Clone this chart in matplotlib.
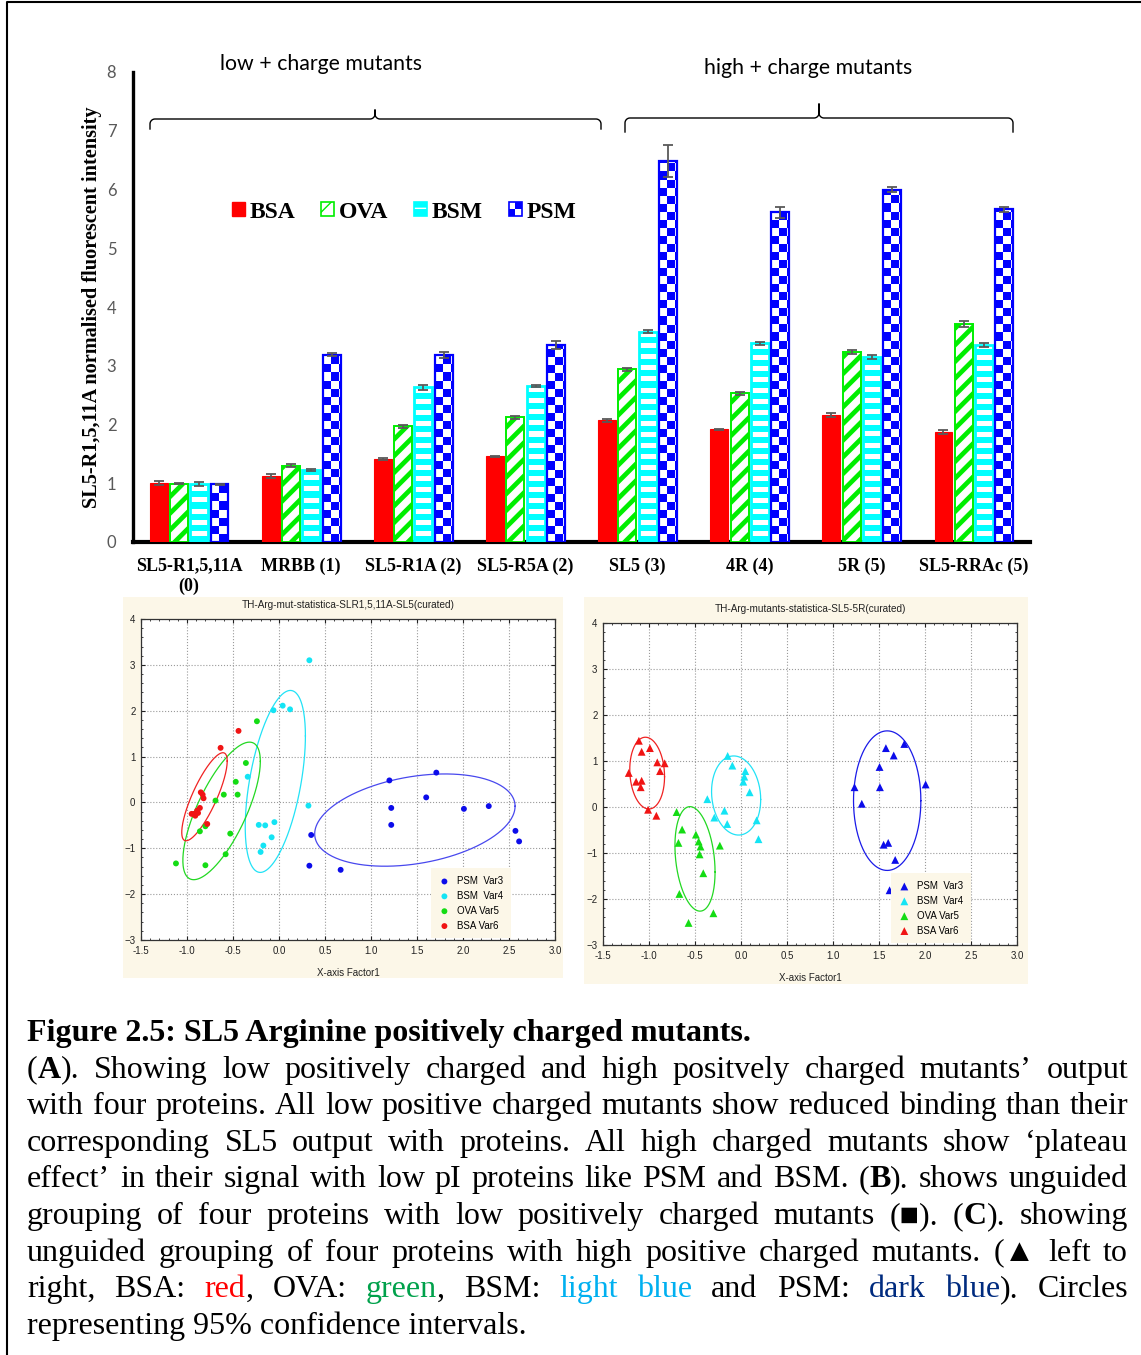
import re
import numpy as np
import matplotlib
matplotlib.use('Agg')
import matplotlib.pyplot as plt
from matplotlib.patches import Patch, Rectangle
from matplotlib.colors import ListedColormap
from matplotlib.legend_handler import HandlerBase, HandlerTuple
from matplotlib.ticker import MultipleLocator, FormatStrFormatter

W, H = 1141, 1355
SERIF = ['Liberation Serif', 'DejaVu Serif']
SANS = ['Liberation Sans', 'DejaVu Sans']

# ---------------- bar chart data ----------------
mutants = ['SL5-R1,5,11A\n(0)', 'MRBB (1)', 'SL5-R1A (2)', 'SL5-R5A (2)',
           'SL5 (3)', '4R (4)', '5R (5)', 'SL5-RRAc (5)']
bsa = [1.00, 1.12, 1.41, 1.46, 2.07, 1.92, 2.16, 1.87]
ova = [0.99, 1.30, 1.97, 2.12, 2.94, 2.53, 3.23, 3.71]
bsm = [0.99, 1.23, 2.63, 2.66, 3.58, 3.38, 3.15, 3.35]
psm = [0.98, 3.19, 3.19, 3.35, 6.48, 5.61, 6.00, 5.66]
bsa_err = [0.03, 0.03, 0.02, 0.01, 0.03, 0.01, 0.03, 0.03]
ova_err = [0.01, 0.03, 0.03, 0.03, 0.03, 0.03, 0.03, 0.05]
bsm_err = [0.03, 0.02, 0.05, 0.02, 0.03, 0.03, 0.03, 0.03]
psm_err = [0.01, 0.03, 0.05, 0.07, 0.27, 0.10, 0.05, 0.04]

# ---------------- scatter data (B: low + charge, circles) ----------------
low_psm_x = [1.20, 1.71, 1.60, 1.22, 2.01, 2.28, 1.22, 0.35, 2.57, 2.61, 0.33, 0.67]
low_psm_y = [0.48, 0.65, 0.11, -0.12, -0.14, -0.08, -0.49, -0.71, -0.62, -0.85, -1.38, -1.47]
low_bsm_x = [0.33, -0.06, 0.04, 0.12, -0.34, 0.32, -0.22, -0.15, -0.05, -0.08, -0.17, -0.20]
low_bsm_y = [3.10, 2.01, 2.11, 2.03, 0.56, -0.07, -0.49, -0.50, -0.43, -0.76, -0.94, -1.08]
low_ova_x = [-0.24, -0.36, -0.47, -0.45, -0.60, -0.69, -0.80, -0.86, -0.53, -0.58, -0.80, -1.12]
low_ova_y = [1.77, 0.86, 0.45, 0.17, 0.17, 0.04, -0.52, -0.63, -0.68, -1.13, -1.37, -1.33]
low_bsa_x = [-0.635, -0.44, -0.85, -0.83, -0.82, -0.86, -0.89, -0.95, -0.91, -0.78, -0.925, -0.88]
low_bsa_y = [1.19, 1.56, 0.22, 0.17, 0.09, -0.12, -0.18, -0.25, -0.29, -0.47, -0.25, -0.23]
# 95% ellipses: centre x, centre y, half width, half height, correlation
low_ell_psm = [1.477, -0.385, 1.089, 1.006, 0.30]
low_ell_bsm = [-0.04, 0.458, 0.327, 1.984, 0.50]
low_ell_ova = [-0.624, -0.185, 0.421, 1.50, 0.72]
low_ell_bsa = [-0.81, 0.124, 0.247, 0.96, 0.81]

# ---------------- scatter data (C: high + charge, triangles) ----------------
high_psm_x = [1.234, 1.313, 1.506, 1.51, 1.575, 1.66, 1.775, 2.007, 1.55, 1.60, 1.676, 1.615]
high_psm_y = [0.43, 0.07, 0.87, 0.43, 1.28, 1.12, 1.37, 0.49, -0.82, -0.78, -1.15, -1.81]
high_bsm_x = [-0.145, -0.094, 0.047, 0.036, 0.025, 0.094, -0.366, -0.18, -0.29, -0.15, 0.17, 0.19]
high_bsm_y = [1.11, 0.90, 0.78, 0.66, 0.55, 0.32, 0.17, -0.08, -0.23, -0.37, -0.29, -0.70]
high_ova_x = [-0.70, -0.64, -0.68, -0.49, -0.46, -0.44, -0.23, -0.45, -0.41, -0.67, -0.30, -0.57]
high_ova_y = [-0.11, -0.49, -0.78, -0.60, -0.75, -0.86, -0.84, -1.03, -1.44, -1.89, -2.31, -2.52]
high_bsa_x = [-1.11, -1.08, -0.99, -0.91, -0.83, -0.88, -1.22, -1.14, -1.08, -1.09, -1.01, -0.92]
high_bsa_y = [1.44, 1.20, 1.28, 0.97, 0.95, 0.78, 0.74, 0.55, 0.57, 0.43, -0.06, -0.19]
high_ell_psm = [1.589, 0.138, 0.366, 1.517, 0.0]
high_ell_bsm = [-0.053, 0.25, 0.267, 0.86, -0.1]
high_ell_ova = [-0.50, -1.128, 0.218, 1.136, -0.25]
high_ell_bsa = [-1.02, 0.737, 0.189, 0.78, -0.1]

legend_names = ['PSM  Var3', 'BSM  Var4', 'OVA Var5', 'BSA Var6']

caption_title = 'Figure 2.5: SL5 Arginine positively charged mutants.'
caption_lines = [
    "(*A*). Showing low positively charged and high positvely charged mutants\u2019 output",
    "with four proteins. All low positive charged mutants show reduced binding than their",
    "corresponding SL5 output with proteins. All high charged mutants show \u2018plateau",
    "effect\u2019 in their signal with low pI proteins like PSM and BSM. (*B*). shows unguided",
    "grouping of four proteins with low positively charged mutants (\u25a0). (*C*). showing",
    "unguided grouping of four proteins with high positive charged mutants. (\u25b2 left to",
    "right, BSA: {r:red}, OVA: {g:green}, BSM: {lb:light} {lb:blue} and PSM: {db:dark} {db:blue}). Circles",
]
caption_last = 'representing 95% confidence intervals.'
word_colors = {'r': '#ff0000', 'g': '#00a14b', 'lb': '#00b0f0', 'db': '#002b7f'}

RED, GREEN, CYAN, BLUE = '#ff0000', '#00ee00', '#00ffff', '#0000ff'


def px_rect(x0, y0, x1, y1):
    return [x0 / W, 1 - y1 / H, (x1 - x0) / W, (y1 - y0) / H]


fig = plt.figure(figsize=(W / 100, H / 100), dpi=100)

# full-figure pixel axes for frame, braces, caption
bg = fig.add_axes([0, 0, 1, 1], zorder=-1)
bg.set_xlim(0, W)
bg.set_ylim(H, 0)
bg.axis('off')
bg.plot([7, 7, W], [H, 2, 2], color='black', lw=1.5)


def brace(x0, x1, xm, y, dn, up, r=5):
    a = np.linspace(0, np.pi / 2, 12)
    xs = [x0] + list(x0 + r - r * np.cos(a)) + list(xm - r + r * np.sin(a)) + [xm, xm] \
        + list(xm + r - r * np.cos(a)) + list(x1 - r + r * np.sin(a)) + [x1]
    ys = [y + dn] + list(y + r - r * np.sin(a)) + list(y - r + r * np.cos(a)) + [y - up, y - r] \
        + list(y - r + r * np.sin(a)) + list(y + r - r * np.cos(a)) + [y + dn]
    bg.plot(xs, ys, color='black', lw=1.0)


brace(150, 601, 375, 119, 10, 9)
brace(625, 1013, 819, 118, 14, 14)
bg.text(321, 64, 'low + charge mutants', family='Lato', fontsize=15.3, ha='center', va='center')
bg.text(808, 68, 'high + charge mutants', family='Lato', fontsize=15.3, ha='center', va='center')

# ---------------- bar chart ----------------
ax = fig.add_axes(px_rect(133, 72, 1030, 542))
ax.patch.set_visible(False)
centers = np.arange(len(mutants)) + 0.5
step, bw = 0.181, 0.16
ekw = dict(ecolor='#595959', elinewidth=1.3, capsize=3.5, capthick=1.3)
upx = 8 / 470  # data units per pixel on the value axis

ax.bar(centers - 1.5 * step, bsa, bw, color=RED, edgecolor=RED, lw=0.8,
       yerr=bsa_err, error_kw=ekw, zorder=3)

with plt.rc_context({'hatch.linewidth': 3.4}):
    ova_bars = ax.bar(centers - 0.5 * step, ova, bw, facecolor='white', edgecolor=GREEN,
                      hatch='//', lw=1.4, yerr=ova_err, error_kw=ekw, zorder=3)
for b in ova_bars:
    if hasattr(b, 'set_hatch_linewidth'):
        b.set_hatch_linewidth(3.4)

# BSM: cyan bars with white horizontal stripes
bsm_bars = ax.bar(centers + 0.5 * step, bsm, bw, facecolor=CYAN, edgecolor='none',
                  lw=0, zorder=3)
stripes = ListedColormap([CYAN, 'white'])
for b in bsm_bars:
    n = int(np.ceil(b.get_height() / upx))
    band = ((np.arange(n) % 11) >= 6).astype(int)[:, None]
    im = ax.imshow(band, cmap=stripes, vmin=0, vmax=1, origin='lower',
                   extent=(b.get_x(), b.get_x() + bw, 0, n * upx), interpolation='nearest',
                   aspect='auto', zorder=3.5)
    im.set_clip_path(b)
ax.bar(centers + 0.5 * step, bsm, bw, facecolor='none', edgecolor=CYAN, lw=2.0,
       yerr=bsm_err, error_kw=ekw, zorder=4)

# PSM: blue / white checkerboard
psm_bars = ax.bar(centers + 1.5 * step, psm, bw, facecolor='white', edgecolor=BLUE,
                  lw=0, zorder=3)
sqx, sqy = 0.072, 0.137
checker = ListedColormap(['white', BLUE])
for b in psm_bars:
    x0 = b.get_x()
    nx = int(np.ceil(bw / sqx))
    ny = int(np.ceil(b.get_height() / sqy))
    board = np.add.outer(np.arange(ny), np.arange(nx)) % 2
    im = ax.imshow(board, cmap=checker, vmin=0, vmax=1, origin='lower',
                   extent=(x0, x0 + nx * sqx, 0, ny * sqy), interpolation='nearest',
                   aspect='auto', zorder=3.5)
    im.set_clip_path(b)
ax.bar(centers + 1.5 * step, psm, bw, facecolor='none', edgecolor=BLUE, lw=1.6,
       yerr=psm_err, error_kw=ekw, zorder=4)

ax.set_xlim(0, 8)
ax.set_ylim(0, 8)
for s in ['top', 'right']:
    ax.spines[s].set_visible(False)
ax.spines['left'].set_linewidth(2.4)
ax.spines['bottom'].set_linewidth(3.0)
ax.set_xticks(centers)
ax.set_xticklabels(mutants, family=SERIF, fontweight='bold', fontsize=13, linespacing=1.25)
ax.set_yticks(range(9))
ax.set_yticklabels([str(v) for v in range(9)], family='Lato', fontsize=12, color='#595959')
ax.tick_params(axis='both', length=0)
ax.tick_params(axis='y', pad=12)
ax.tick_params(axis='x', pad=11)
ax.set_ylabel('SL5-R1,5,11A normalised fluorescent intensity', family=SERIF,
              fontweight='bold', fontsize=14.6, va='center')
ax.yaxis.set_label_coords(-(133 - 92) / 897, 0.5)


class CheckerHandler(HandlerBase):
    def create_artists(self, legend, orig_handle, xdescent, ydescent, width, height,
                       fontsize, trans):
        w, h = width / 2, height / 2
        arts = []
        for i in range(2):
            for j in range(2):
                c = BLUE if (i + j) % 2 == 0 else 'white'
                arts.append(Rectangle((-xdescent + i * w, -ydescent + j * h), w, h,
                                      facecolor=c, edgecolor='none', transform=trans))
        arts.append(Rectangle((-xdescent, -ydescent), width, height, facecolor='none',
                              edgecolor=BLUE, lw=1.2, transform=trans))
        return arts


h_bsa = Patch(facecolor=RED, edgecolor=RED)
h_ova = Patch(facecolor='white', edgecolor=GREEN, hatch='/', lw=1.2)
h_bsm = (Patch(facecolor=CYAN, edgecolor='white', hatch='-', lw=0),
         Patch(facecolor='none', edgecolor=CYAN, lw=1.2))
h_psm = Rectangle((0, 0), 1, 1)
ax.legend([h_bsa, h_ova, h_bsm, h_psm], ['BSA', 'OVA', 'BSM', 'PSM'], ncol=4,
          loc='center left', bbox_to_anchor=((220 - 133) / 897, (542 - 212) / 470),
          frameon=False, borderpad=0, handlelength=0.55, handleheight=0.55,
          handletextpad=0.2, columnspacing=1.1,
          prop=dict(family=SERIF, weight='bold', size=17),
          handler_map={tuple: HandlerTuple(ndivide=1), Rectangle: CheckerHandler()})

# ---------------- scatter panels ----------------
pt_colors = ['#0c0cea', '#14e4f4', '#14dc14', '#f01414']
CREAM = '#fcf7e8'


def ellipse(axs, e, color):
    cx, cy, rx, ry, rho = e
    t = np.linspace(0, 2 * np.pi, 300)
    d = np.arccos(rho)
    axs.plot(cx + rx * np.cos(t), cy + ry * np.cos(t - d), color=color, lw=0.9, zorder=2)


def scatter_panel(ax_px, bg_px, title, title_y, groups, ells, ell_colors, marker, size, leg_x):
    bg.add_patch(Rectangle((bg_px[0], bg_px[1]), bg_px[2] - bg_px[0], bg_px[3] - bg_px[1],
                           facecolor=CREAM, edgecolor='none'))
    bg.text((ax_px[0] + ax_px[2]) / 2, title_y, title, family=SANS, fontsize=7.2,
            ha='center', va='center', color='#222222')
    sa = fig.add_axes(px_rect(*ax_px))
    sa.set_facecolor('white')
    for e, c in zip(ells, ell_colors):
        ellipse(sa, e, c)
    for (xs, ys), c, name in zip(groups, pt_colors, legend_names):
        sa.scatter(xs, ys, s=size, marker=marker, color=c, edgecolors='none', label=name, zorder=3)
    sa.set_xlim(-1.5, 3.0)
    sa.set_ylim(-3, 4)
    sa.xaxis.set_major_locator(MultipleLocator(0.5))
    sa.xaxis.set_major_formatter(FormatStrFormatter('%.1f'))
    sa.xaxis.set_minor_locator(MultipleLocator(0.1))
    sa.yaxis.set_major_locator(MultipleLocator(1))
    sa.yaxis.set_minor_locator(MultipleLocator(0.2))
    sa.grid(True, which='major', linestyle=':', color='#9a9a9a', lw=0.8)
    sa.tick_params(which='both', direction='in', top=True, right=True, labelsize=7,
                   colors='#222222', pad=4)
    sa.tick_params(which='major', length=3)
    sa.tick_params(which='minor', length=1.5)
    for lab in sa.get_xticklabels() + sa.get_yticklabels():
        lab.set_family(SANS)
    for s in sa.spines.values():
        s.set_linewidth(0.9)
        s.set_color('#333333')
    sa.set_xlabel('X-axis Factor1', family=SANS, fontsize=7, color='#222222', labelpad=9)
    leg = sa.legend(loc='lower left', bbox_to_anchor=(leg_x, 0.005), fontsize=7,
                    prop=dict(family=SANS, size=7), frameon=True, fancybox=False,
                    borderpad=0.8, labelspacing=0.5, handletextpad=0.7, handlelength=1.2,
                    borderaxespad=0)
    leg.get_frame().set_facecolor(CREAM)
    leg.get_frame().set_edgecolor('none')
    leg.get_frame().set_alpha(1)
    return sa


scatter_panel((141, 619, 555, 940), (123, 597, 563, 978),
              'TH-Arg-mut-statistica-SLR1,5,11A-SL5(curated)', 605,
              [(low_psm_x, low_psm_y), (low_bsm_x, low_bsm_y),
               (low_ova_x, low_ova_y), (low_bsa_x, low_bsa_y)],
              [low_ell_psm, low_ell_bsm, low_ell_ova, low_ell_bsa],
              ['#4848ee', '#22e2f6', '#22d822', '#f02222'], 'o', 18, 0.700)
scatter_panel((603, 623, 1017, 945), (584, 597, 1028, 984),
              'TH-Arg-mutants-statistica-SL5-5R(curated)', 609,
              [(high_psm_x, high_psm_y), (high_bsm_x, high_bsm_y),
               (high_ova_x, high_ova_y), (high_bsa_x, high_bsa_y)],
              [high_ell_psm, high_ell_bsm, high_ell_ova, high_ell_bsa],
              ['#1a1ae8', '#22e2f6', '#22d822', '#f02222'], '^', 32, 0.695)

# ---------------- caption ----------------
renderer = fig.canvas.get_renderer()
CAP_FS = 23
LEFT, RIGHT = 27, 1128
base0, lead = 1041, 36.6


def segments(word):
    out = []
    for part in re.split(r'(\*[^*]+\*|\{\w+:[^}]+\})', word):
        if not part:
            continue
        if part.startswith('*'):
            out.append((part[1:-1], 'bold', 'black'))
        elif part.startswith('{'):
            key, txt = part[1:-1].split(':', 1)
            out.append((txt, 'normal', word_colors[key]))
        else:
            out.append((part, 'normal', 'black'))
    return out


def justified(line, y):
    words = []
    for w in line.split(' '):
        arts = []
        for txt, wt, col in segments(w):
            t = bg.text(0, y, txt, family=SERIF, fontsize=CAP_FS, fontweight=wt, color=col,
                        ha='left', va='baseline')
            arts.append((t, t.get_window_extent(renderer).width))
        words.append(arts)
    total = sum(wd for arts in words for _, wd in arts)
    gap = (RIGHT - LEFT - total) / (len(words) - 1)
    x = LEFT
    for arts in words:
        for t, wd in arts:
            t.set_x(x)
            x += wd
        x += gap


bg.text(LEFT, base0, caption_title, family=SERIF, fontsize=CAP_FS, fontweight='bold',
        ha='left', va='baseline')
for i, line in enumerate(caption_lines):
    justified(line, base0 + lead * (i + 1))
bg.text(LEFT, base0 + lead * (len(caption_lines) + 1), caption_last, family=SERIF,
        fontsize=CAP_FS, ha='left', va='baseline')

fig.savefig('out.png', dpi=100)
